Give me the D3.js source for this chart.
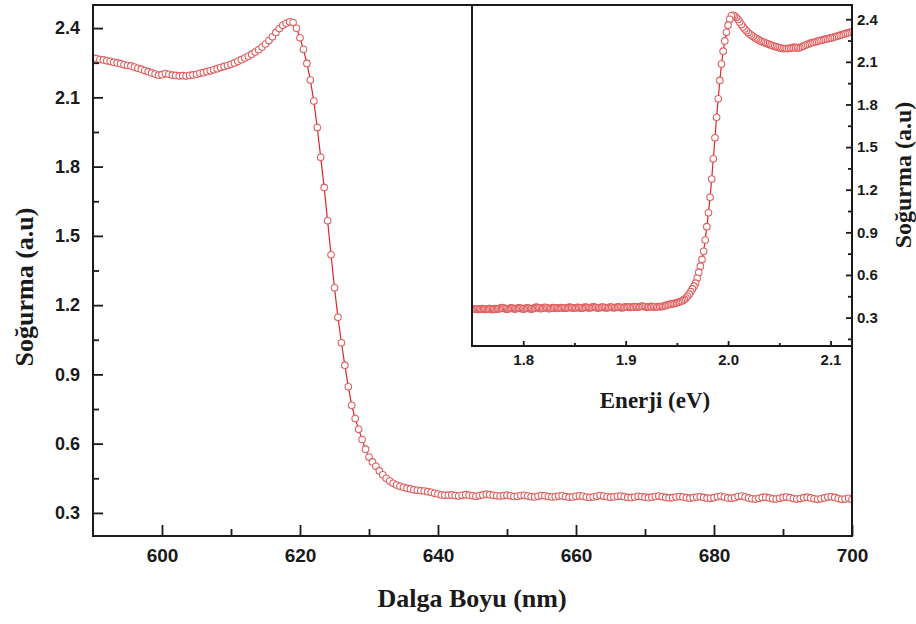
<!DOCTYPE html>
<html>
<head>
<meta charset="utf-8">
<script src="https://cdn.jsdelivr.net/npm/d3@7"></script>
<style>
  html, body { margin: 0; padding: 0; background: #fff; }
  svg { display: block; }
</style>
</head>
<body>
<svg id="chart" width="916" height="624"></svg>
<script>
// ---------------- DATA ----------------
// Wavelength sampling grid (nm), 0.5 nm step from 585 to 710
const wavelengthStart = 585;
const wavelengthStep = 0.5;
// Absorbance (Soğurma, a.u.), one value per grid point
const absorbance = [
  2.310, 2.306, 2.302, 2.298, 2.294, 2.290, 2.286, 2.282, 2.278, 2.274,
  2.270, 2.268, 2.264, 2.262, 2.258, 2.256, 2.252, 2.249, 2.246, 2.241,
  2.238, 2.236, 2.231, 2.226, 2.222, 2.216, 2.211, 2.206, 2.201, 2.196,
  2.198, 2.203, 2.200, 2.196, 2.195, 2.193, 2.194, 2.192, 2.195, 2.197,
  2.200, 2.204, 2.207, 2.211, 2.215, 2.219, 2.224, 2.229, 2.234, 2.238,
  2.243, 2.249, 2.256, 2.263, 2.270, 2.278, 2.287, 2.296, 2.306, 2.318,
  2.331, 2.346, 2.362, 2.381, 2.398, 2.412, 2.421, 2.427, 2.424, 2.399,
  2.358, 2.308, 2.247, 2.175, 2.084, 1.969, 1.840, 1.710, 1.565, 1.418,
  1.275, 1.147, 1.037, 0.940, 0.846, 0.766, 0.709, 0.662, 0.618, 0.576,
  0.542, 0.521, 0.502, 0.482, 0.465, 0.450, 0.438, 0.428, 0.421, 0.415,
  0.411, 0.407, 0.404, 0.400, 0.398, 0.396, 0.395, 0.392, 0.389, 0.385,
  0.382, 0.378, 0.376, 0.377, 0.378, 0.375, 0.373, 0.376, 0.379, 0.377,
  0.374, 0.372, 0.375, 0.378, 0.381, 0.379, 0.376, 0.374, 0.373, 0.375,
  0.377, 0.374, 0.371, 0.372, 0.375, 0.376, 0.373, 0.370, 0.369, 0.372,
  0.375, 0.374, 0.371, 0.369, 0.370, 0.373, 0.374, 0.371, 0.368, 0.369,
  0.372, 0.374, 0.372, 0.369, 0.367, 0.369, 0.372, 0.375, 0.373, 0.370,
  0.368, 0.369, 0.372, 0.373, 0.370, 0.367, 0.366, 0.369, 0.372, 0.371,
  0.368, 0.366, 0.368, 0.371, 0.373, 0.370, 0.367, 0.365, 0.366, 0.369,
  0.371, 0.369, 0.366, 0.364, 0.366, 0.369, 0.370, 0.367, 0.364, 0.363,
  0.366, 0.370, 0.372, 0.369, 0.365, 0.363, 0.366, 0.371, 0.373, 0.370,
  0.365, 0.361, 0.360, 0.363, 0.367, 0.368, 0.365, 0.361, 0.360, 0.363,
  0.367, 0.369, 0.366, 0.362, 0.360, 0.362, 0.366, 0.368, 0.365, 0.361,
  0.359, 0.361, 0.365, 0.369, 0.370, 0.367, 0.362, 0.359, 0.360, 0.363,
  0.358, 0.356, 0.359, 0.363, 0.364, 0.361, 0.358, 0.357, 0.360, 0.363,
  0.362, 0.359, 0.357, 0.358, 0.361, 0.362, 0.360, 0.357, 0.356, 0.358,
  0.360
];
const wavelengths = absorbance.map((_, i) => wavelengthStart + i * wavelengthStep);
const hcConst = 1240; // eV·nm, E = 1240 / λ

// Tick values
const mainXTicks = [600, 620, 640, 660, 680, 700];
const mainXMinor = [610, 630, 650, 670, 690];
const mainYTicks = [0.3, 0.6, 0.9, 1.2, 1.5, 1.8, 2.1, 2.4];
const mainYMinor = [0.45, 0.75, 1.05, 1.35, 1.65, 1.95, 2.25];
const insetXTicks = [1.8, 1.9, 2.0, 2.1];
const insetXMinor = [1.85, 1.95, 2.05];
const insetYTicks = [0.3, 0.6, 0.9, 1.2, 1.5, 1.8, 2.1, 2.4];
const insetYMinor = [0.15, 0.45, 0.75, 1.05, 1.35, 1.65, 1.95, 2.25];

// Labels
const mainXTitle = "Dalga Boyu (nm)";
const mainYTitle = "Soğurma (a.u)";
const insetXTitle = "Enerji (eV)";
const insetYTitle = "Soğurma (a.u)";

// ---------------- DRAW ----------------
const svg = d3.select("#chart");
const tickFont = "'Liberation Sans', Arial, Helvetica, sans-serif";
const titleFont = "'Liberation Serif', 'Times New Roman', serif";
const axisColor = "#1a1a1a";
const lineColor = "#d42a2a";
const markerColor = "#df5f5f";

const mainData = wavelengths.map((w, i) => ({x: w, y: absorbance[i]}));
const insetData = wavelengths.map((w, i) => ({x: hcConst / w, y: absorbance[i]}));

// main scales
const L = 93, R = 852, T = 5, B = 536;
const x = d3.scaleLinear().domain([590, 700]).range([L, R]);
const y = d3.scaleLinear().domain([0.2, 2.5]).range([B, T]);

// inset scales
const iL = 472, iR = 851, iT = 5, iB = 346;
const xi = d3.scaleLinear().domain([1.75, 2.12]).range([iL, iR]);
const yi = d3.scaleLinear().domain([0.1, 2.5]).range([iB, iT]);

const defs = svg.append("defs");
defs.append("clipPath").attr("id", "clipMain")
  .append("rect").attr("x", L).attr("y", T).attr("width", R - L).attr("height", B - T);
defs.append("clipPath").attr("id", "clipInset")
  .append("rect").attr("x", iL).attr("y", iT).attr("width", iR - iL).attr("height", iB - iT);

function drawSeries(g, data, sx, sy) {
  const line = d3.line().x(d => sx(d.x)).y(d => sy(d.y));
  g.append("path").datum(data)
    .attr("d", line).attr("fill", "none")
    .attr("stroke", lineColor).attr("stroke-width", 1.2);
  g.selectAll("circle").data(data).enter().append("circle")
    .attr("cx", d => sx(d.x)).attr("cy", d => sy(d.y))
    .attr("r", 3.3).attr("fill", "#fff")
    .attr("stroke", markerColor).attr("stroke-width", 1.1);
}

// main series
drawSeries(svg.append("g").attr("clip-path", "url(#clipMain)"), mainData, x, y);

// inset background & series
svg.append("rect").attr("x", iL).attr("y", iT).attr("width", iR - iL).attr("height", iB - iT).attr("fill", "#fff");
drawSeries(svg.append("g").attr("clip-path", "url(#clipInset)"), insetData, xi, yi);

function styleAxis(g, size) {
  g.select(".domain").remove();
  g.selectAll(".tick line").attr("stroke", axisColor).attr("stroke-width", 1.8);
  g.selectAll("text").attr("fill", axisColor)
    .style("font-family", tickFont).style("font-weight", "bold").style("font-size", size + "px");
}

// main axes
const gx = svg.append("g").attr("transform", `translate(0,${B})`)
  .call(d3.axisBottom(x).tickValues(mainXTicks).tickSize(-11).tickPadding(13).tickFormat(d3.format("d")));
styleAxis(gx, 19);
const gxm = svg.append("g").attr("transform", `translate(0,${B})`)
  .call(d3.axisBottom(x).tickValues(mainXMinor).tickSize(-7).tickFormat(""));
styleAxis(gxm, 19);

const gy = svg.append("g").attr("transform", `translate(${L},0)`)
  .call(d3.axisLeft(y).tickValues(mainYTicks).tickSize(-10).tickPadding(13).tickFormat(d3.format(".1f")));
styleAxis(gy, 18);
const gym = svg.append("g").attr("transform", `translate(${L},0)`)
  .call(d3.axisLeft(y).tickValues(mainYMinor).tickSize(-6).tickFormat(""));
styleAxis(gym, 18);

// inset axes
const gix = svg.append("g").attr("transform", `translate(0,${iB})`)
  .call(d3.axisBottom(xi).tickValues(insetXTicks).tickSize(-5).tickPadding(8).tickFormat(d3.format(".1f")));
styleAxis(gix, 15);
const gixm = svg.append("g").attr("transform", `translate(0,${iB})`)
  .call(d3.axisBottom(xi).tickValues(insetXMinor).tickSize(-3).tickFormat(""));
styleAxis(gixm, 15);

const giy = svg.append("g").attr("transform", `translate(${iR},0)`)
  .call(d3.axisRight(yi).tickValues(insetYTicks).tickSize(-5).tickPadding(6).tickFormat(d3.format(".1f")));
styleAxis(giy, 15);
const giym = svg.append("g").attr("transform", `translate(${iR},0)`)
  .call(d3.axisRight(yi).tickValues(insetYMinor).tickSize(-3).tickFormat(""));
styleAxis(giym, 15);

// frames
svg.append("rect").attr("x", L).attr("y", T).attr("width", R - L).attr("height", B - T)
  .attr("fill", "none").attr("stroke", axisColor).attr("stroke-width", 2);
svg.append("path")
  .attr("d", `M${iL},${iT}V${iB}H${iR}`)
  .attr("fill", "none").attr("stroke", axisColor).attr("stroke-width", 2);

// titles
svg.append("text").attr("x", 472).attr("y", 607).attr("text-anchor", "middle")
  .style("font-family", titleFont).style("font-weight", "bold").style("font-size", "26px")
  .attr("fill", axisColor).text(mainXTitle);
svg.append("text").attr("transform", "translate(33,287) rotate(-90)").attr("text-anchor", "middle")
  .style("font-family", titleFont).style("font-weight", "bold").style("font-size", "26px")
  .attr("fill", axisColor).text(mainYTitle);
svg.append("text").attr("x", 655).attr("y", 408).attr("text-anchor", "middle")
  .style("font-family", titleFont).style("font-weight", "bold").style("font-size", "23px")
  .attr("fill", axisColor).text(insetXTitle);
svg.append("text").attr("transform", "translate(911,175) rotate(-90)").attr("text-anchor", "middle")
  .style("font-family", titleFont).style("font-weight", "bold").style("font-size", "24px")
  .attr("fill", axisColor).text(insetYTitle);
</script>
</body>
</html>
